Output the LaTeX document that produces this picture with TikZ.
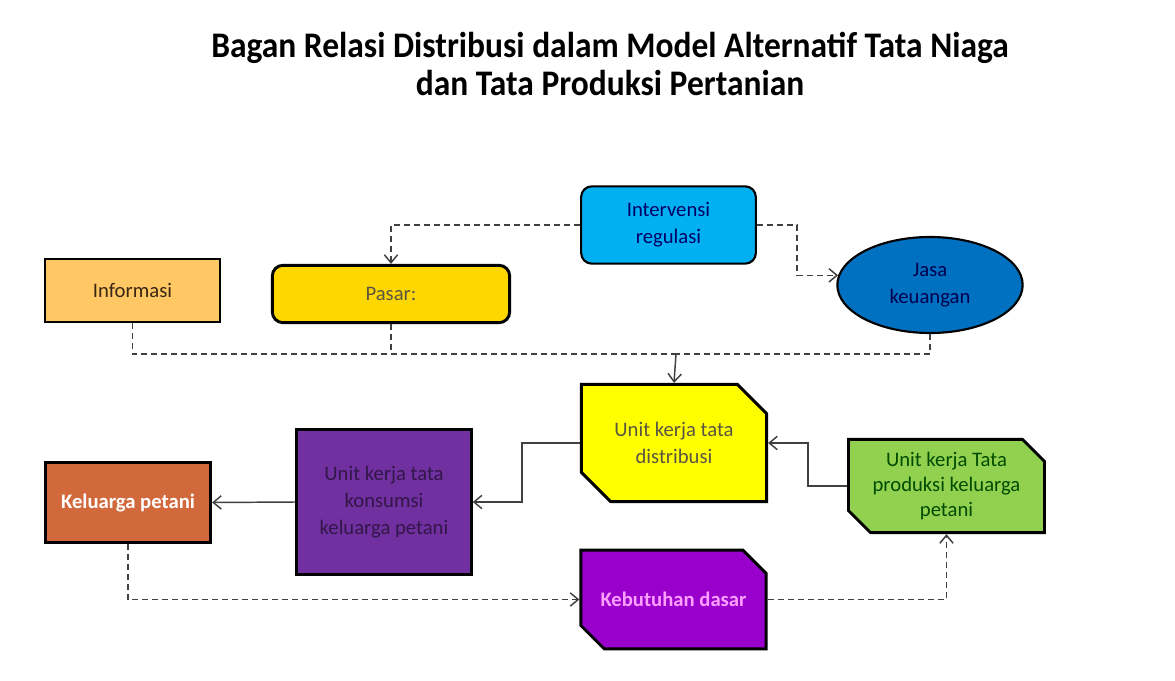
\documentclass[tikz,border=0pt]{standalone}
\usepackage{fontspec}
\setmainfont{Carlito}
\usetikzlibrary{shapes.geometric,shapes.misc,arrows.meta}
\definecolor{cInfo}{HTML}{FFC864}
\definecolor{cPasar}{HTML}{FFD700}
\definecolor{cInt}{HTML}{00B0F0}
\definecolor{cJasa}{HTML}{0070C0}
\definecolor{cDist}{HTML}{FFFF00}
\definecolor{cProd}{HTML}{92D050}
\definecolor{cKeb}{HTML}{9900CC}
\definecolor{cKons}{HTML}{7030A0}
\definecolor{cKel}{HTML}{D2693C}
\definecolor{cLine}{HTML}{404040}
\definecolor{cPink}{HTML}{FFA0FF}
\tikzset{
  box/.style={draw=black, line width=2.2pt, align=center, font=\fontsize{15.5}{20}\selectfont, inner sep=2pt},
  snip/.style={box, chamfered rectangle, chamfered rectangle corners={north east,south west}, chamfered rectangle xsep=11pt, chamfered rectangle ysep=11pt},
  conn/.style={draw=cLine, line width=1.1pt},
  dconn/.style={conn, dash pattern=on 4.5pt off 3pt},
  tip/.style={-{Straight Barb[length=6pt,width=10pt,line width=1.1pt]}}
}
\begin{document}
\begin{tikzpicture}[x=0.75pt,y=-0.75pt]
\useasboundingbox (0,0) rectangle (1175,681);
% title
\node[font=\bfseries\fontsize{27}{28.5}\selectfont, align=center] (title) at (610,64)
  {\scalebox{0.93}[1]{Bagan Relasi Distribusi dalam Model Alternatif Tata Niaga}\\
   \scalebox{0.93}[1]{dan Tata Produksi Pertanian}};
% nodes
\node[box, line width=1.6pt, fill=cInfo, text=black!70!brown, minimum width=131pt, minimum height=47pt] (info) at (132.5,290.5) {Informasi};
\node[box, rounded corners=8pt, fill=cPasar, text=black!75!yellow, minimum width=178pt, minimum height=43pt] (pasar) at (391,294) {Pasar:};
\node[box, line width=1.6pt, rounded corners=8pt, fill=cInt, text=blue!40!black, minimum width=131pt, minimum height=58pt] (int) at (668.5,225) {Intervensi\\regulasi};
\node[box, ellipse, line width=1.6pt, fill=cJasa, text=blue!30!black, minimum width=139pt, minimum height=72pt, inner sep=0pt] (jasa) at (930,285) {Jasa\\keuangan};
\node[snip, fill=cDist, text=black!75!yellow, minimum width=139pt, minimum height=88pt] (dist) at (674,443) {Unit kerja tata\\distribusi};
\node[snip, chamfered rectangle xsep=9pt, chamfered rectangle ysep=7.5pt, inner sep=1pt, fill=cProd, text=green!30!black, font=\fontsize{15.5}{18.5}\selectfont, minimum width=147pt, minimum height=70pt] (prod) at (946.5,486) {Unit kerja Tata\\produksi keluarga\\petani};
\node[snip, chamfered rectangle xsep=10pt, chamfered rectangle ysep=10pt, fill=cKeb, text=cPink, font=\bfseries\fontsize{15.5}{20}\selectfont, minimum width=139pt, minimum height=74pt] (keb) at (673.5,599.5) {Kebutuhan dasar};
\node[box, fill=cKons, text=cKons!45!black, minimum width=131pt, minimum height=109pt] (kons) at (384,502) {Unit kerja tata\\konsumsi\\keluarga petani};
\node[box, fill=cKel, text=white, font=\bfseries\fontsize{15.5}{20}\selectfont, minimum width=124pt, minimum height=60pt] (kel) at (128,502.5) {Keluarga petani};
% connectors
\coordinate (bus) at (676,354);
\draw[dconn, tip] (int.west) -| (pasar.north);
\draw[dconn, tip] (int.east) -- (797,225) |- (jasa.174);
\draw[dconn] (info.south) |- (bus);
\draw[dconn] (pasar.south) |- (bus);
\draw[dconn] (jasa.south) |- (bus);
\draw[conn, tip] (bus) -- (dist.north);
\draw[conn, tip] (dist.west) -- (522,443) |- (kons.east);
\draw[conn, tip] (prod.west) -- (808,486) |- (dist.east);
\draw[conn, tip] (kons.west) -- (kel.east);
\draw[dconn, tip] (kel.south) |- (keb.west);
\draw[dconn, tip] (keb.east) -| (prod.south);
\end{tikzpicture}
\end{document}
